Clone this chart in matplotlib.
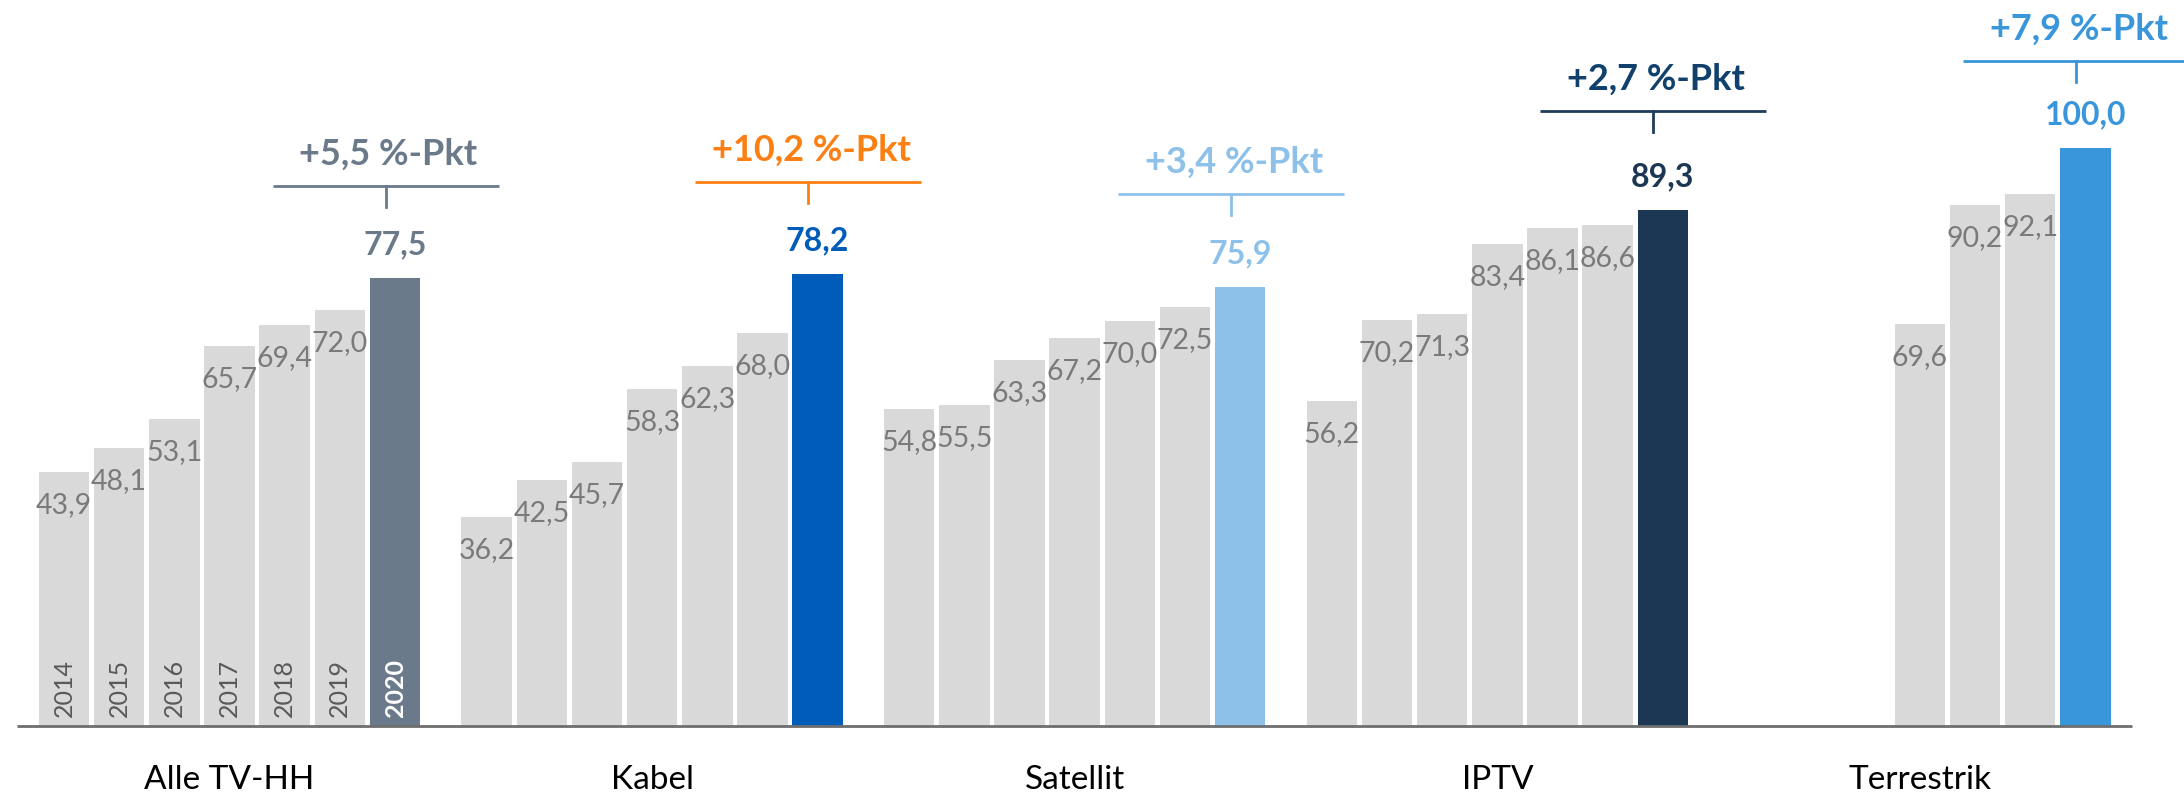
import numpy as np
import matplotlib.pyplot as plt

plt.rcParams['font.family'] = ['Lato', 'DejaVu Sans']

# Verbreitung je Empfangsweg, 2014-2020 (in %)
years = ['2014', '2015', '2016', '2017', '2018', '2019', '2020']
groups = ['Alle TV-HH', 'Kabel', 'Satellit', 'IPTV', 'Terrestrik']
alle = [43.9, 48.1, 53.1, 65.7, 69.4, 72.0, 77.5]
kabel = [36.2, 42.5, 45.7, 58.3, 62.3, 68.0, 78.2]
satellit = [54.8, 55.5, 63.3, 67.2, 70.0, 72.5, 75.9]
iptv = [56.2, 70.2, 71.3, 83.4, 86.1, 86.6, 89.3]
terrestrik = [None, None, None, 69.6, 90.2, 92.1, 100.0]
series = [alle, kabel, satellit, iptv, terrestrik]

bar_colors = ['#6b7a8b', '#005cb9', '#8dc1e9', '#1c3753', '#3a96db']
delta_colors = ['#6b7a8b', '#fb7f12', '#8dc1e9', '#0f416c', '#3a96db']
line_colors = ['#6b7a8b', '#fb7f12', '#8dc1e9', '#1f3c58', '#3a96db']
bracket_gap = [92, 92, 93, 99, 87]   # px above bar top
grey = '#d9d9d9'
label_grey = '#7a7a7a'

def fmt(v):
    return f'{v:.1f}'.replace('.', ',')

W, H = 2184, 796
fig = plt.figure(figsize=(W / 100, H / 100), dpi=100)
ax = fig.add_axes([0, 0, 1, 1])

slot = 55.17        # px per bar slot
ppu = 5.78          # px per percent
stride = 7.66
x0_px, base_px = 64, 70
ax.set_xlim(-x0_px / slot, (W - x0_px) / slot)
ax.set_ylim(-base_px / ppu, (H - base_px) / ppu)
ax.axis('off')

pt = 0.72  # points per px

for g, vals in enumerate(series):
    xs = g * stride + np.arange(len(years))
    for i, v in enumerate(vals):
        if v is None:
            continue
        last = i == len(years) - 1
        ax.bar(xs[i], v, width=0.915, color=bar_colors[g] if last else grey, zorder=2)
        if not last:
            ax.annotate(fmt(v), (xs[i], v), xytext=(0, -33 * pt), textcoords='offset points',
                        ha='center', va='center', fontsize=20.5, color=label_grey, zorder=4)
        else:
            ax.annotate(fmt(v), (xs[i], v), xytext=(0, 33 * pt), textcoords='offset points',
                        ha='center', va='center', fontsize=23, fontweight='bold',
                        color=bar_colors[g], zorder=4)
            # bracket with change versus previous year
            d = v - vals[i - 1]
            cx = xs[i] - 9.5 / slot
            ly = v + bracket_gap[g] / ppu
            ax.plot([cx - 113 / slot, cx + 113 / slot], [ly, ly], color=line_colors[g], lw=2,
                    solid_capstyle='butt')
            ax.plot([cx, cx], [ly, ly - 21 / ppu], color=line_colors[g], lw=2)
            ax.text(cx + 3 / slot, ly + 32 / ppu, '+' + fmt(d) + ' %-Pkt', ha='center', va='center',
                    fontsize=26, fontweight='bold', color=delta_colors[g])
        if g == 0:
            ax.annotate(years[i], (xs[i], 0), xytext=(0, 9 * pt), textcoords='offset points',
                        rotation=90, ha='center', va='bottom', fontsize=18,
                        color='white' if last else '#595959',
                        fontweight='bold' if last else 'normal', zorder=4)
    ax.text(xs.mean(), -54 / ppu, groups[g], ha='center', va='center', fontsize=24, color='black')

left = -0.4575 - 22 / slot
right = 4 * stride + 6 + 0.4575 + 21 / slot
ax.plot([left, right], [0, 0], color='#6e6e6e', lw=2, zorder=3, solid_capstyle='butt')

fig.savefig('out.png', dpi=100)
